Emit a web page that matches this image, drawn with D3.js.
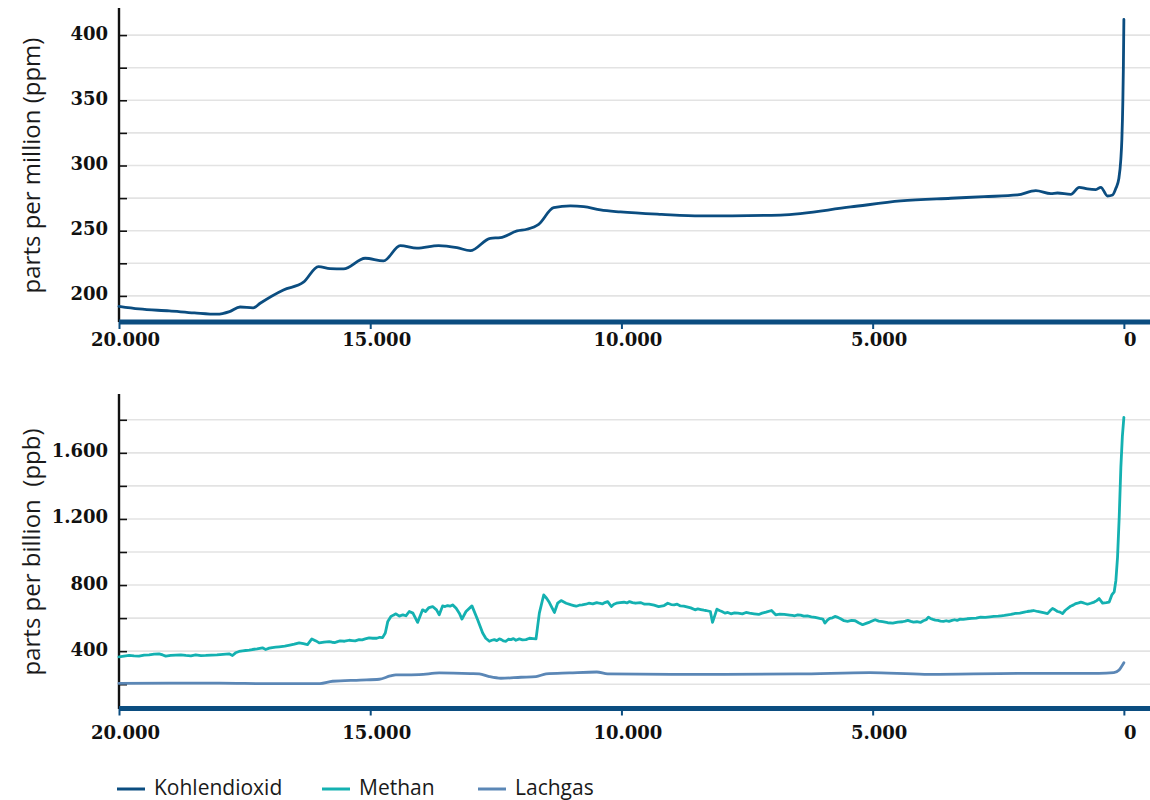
<!DOCTYPE html>
<html>
<head>
<meta charset="utf-8">
<script src="https://cdn.jsdelivr.net/npm/d3@7"></script>
<style>
  html, body { margin: 0; padding: 0; background: #fff; }
  svg { display: block; }
</style>
</head>
<body>
<svg id="chart" width="1150" height="800"></svg>
<script>
// ---------- DATA ----------
const xTickValues = [20000, 15000, 10000, 5000, 0];

const co2Years  = [20000,19600,19000,18500,18050,17800,17590,17330,17191,16727,16329,16030,15800,15532,15100,14735,14402,14070,13639,13273,13008,12610,12410,12078,11880,11648,11349,11016,10751,10418,10020,9200,8426,6833,5438,4442,3446,2783,2117,1753,1454,1321,1056,890,724,558,458,325,225,159,100,60,40,20,10,0];
const co2Values = [192,190,188.5,187,186,188,191.5,190.8,194.4,204.6,210.5,222.5,221,220.7,228.9,226.8,238.6,236.6,238.6,237,234.7,244.2,244.7,249.8,251.1,254.9,267.7,269,268.4,265.9,264.4,262.5,261.3,262,268.2,272.8,274.9,276.1,277.4,280.7,278.4,278.9,277.9,283.3,282,281.5,283.3,276.6,277.4,282.5,290,305,320,350,375,412];

const ch4Years  = [20000,19900,19800,19700,19602,19500,19400,19300,19203,19130,19070,18970,18870,18770,18672,18570,18474,18370,18274,18160,18050,17930,17809,17742,17680,17610,17540,17480,17410,17344,17250,17145,17080,17010,16950,16880,16813,16700,16600,16510,16414,16330,16248,16162,16080,16016,15920,15817,15760,15700,15650,15600,15510,15418,15360,15300,15220,15160,15100,15020,14950,14870,14810,14754,14700,14650,14588,14540,14489,14420,14350,14290,14223,14150,14057,13958,13900,13830,13758,13680,13626,13559,13510,13460,13410,13360,13290,13227,13174,13094,12975,12862,12762,12700,12629,12580,12530,12480,12430,12390,12350,12298,12250,12200,12150,12100,12032,11970,11900,11830,11760,11700,11634,11547,11490,11434,11334,11270,11201,11100,10998,10950,10900,10840,10780,10710,10650,10570,10491,10440,10380,10330,10273,10201,10150,10100,10030,9950,9890,9839,9780,9720,9621,9540,9450,9350,9259,9150,9078,9010,8950,8890,8825,8760,8700,8620,8535,8480,8420,8360,8317,8230,8187,8100,8050,8000,7940,7883,7820,7750,7680,7593,7520,7450,7360,7267,7200,7122,7013,6930,6850,6760,6651,6600,6550,6490,6434,6370,6300,6220,6144,6057,5990,5950,5900,5854,5800,5750,5690,5637,5570,5500,5420,5347,5280,5200,5130,5058,5000,4950,4880,4804,4700,4600,4500,4406,4350,4300,4240,4188,4120,4050,3990,3935,3890,3850,3800,3754,3700,3650,3590,3536,3480,3420,3370,3319,3260,3200,3120,3029,2940,2850,2760,2667,2590,2500,2440,2377,2310,2250,2200,2160,2070,1980,1920,1853,1798,1720,1650,1580,1520,1470,1420,1370,1320,1270,1221,1170,1121,1060,1001,956,900,857,820,784,724,660,591,540,492,424,350,292,240,193,159,126,93,60,30,0];
const ch4Values = [366,370,374,371,370,376,378,382,384,377,370,374,376,378,374,372,377,373,374,376,378,381,384,374,390,398,402,404,406,410,414,420,410,418,422,424,426,430,436,442,450,446,440,474,462,450,455,458,454,452,458,462,460,466,464,462,470,468,474,480,478,478,484,482,510,580,610,618,626,612,620,614,640,630,574,650,640,664,670,650,620,674,670,676,672,680,660,630,594,640,674,590,510,478,460,466,470,464,474,470,462,460,472,470,476,466,474,468,470,478,476,474,630,740,720,694,634,690,706,690,680,676,672,678,680,684,690,686,694,690,686,694,700,670,684,690,694,696,692,700,694,690,694,684,684,678,670,676,690,682,680,684,674,672,668,662,650,656,652,648,646,640,574,654,646,640,630,634,626,632,630,626,634,630,626,622,630,636,646,620,624,622,618,616,614,620,618,612,614,608,604,598,594,570,588,598,602,610,604,596,584,580,586,584,572,560,568,576,584,590,582,578,572,570,576,578,582,586,580,576,578,574,584,590,606,598,592,588,586,582,580,584,580,586,590,586,594,592,596,598,600,606,604,608,610,612,614,616,620,622,626,628,630,636,640,643,646,640,636,632,627,644,658,650,640,636,627,646,658,672,680,688,692,697,694,690,684,690,697,706,718,691,694,697,740,758,828,969,1210,1512,1700,1815];

const n2oYears  = [20000,19000,18000,17000,16000,15750,15200,14820,14600,14489,14024,13626,13000,12829,12630,12400,12000,11700,11500,11036,10491,10273,9000,8317,6500,5058,3970,2000,500,200,95,40,0];
const n2oValues = [205,207,207,203,204,218,225,230,250,256,258,268,264,262,246,236,242,246,262,268,274,262,260,260,262,270,260,266,266,270,286,310,330];

const topYTicks = [200,250,300,350,400];
const topYGrid  = [200,225,250,275,300,325,350,375,400];
const botYTicks = [400,800,1200,1600];
const botYGrid  = [200,400,600,800,1000,1200,1400,1600,1800];

const seriesNames  = ["Kohlendioxid","Methan","Lachgas"];
const seriesColors = ["#0b4d80","#14b1b1","#5b87b6"];

const yLabelTop = "parts per million (ppm)";
const yLabelBot = "parts per billion  (ppb)";

// ---------- DRAW ----------
const svg = d3.select("#chart");
const locale = d3.formatLocale({decimal: ",", thousands: ".", grouping: [3], currency: ["", ""]});
const fmt = locale.format(",");

const x = d3.scaleLinear().domain([20000, -520]).range([119, 1150]);
const yTop = d3.scaleLinear().domain([180, 420]).range([322, 9]);
const yBot = d3.scaleLinear().domain([50, 1950]).range([709, 395]);

const axisBlue = "#0b4d80";
const tickFont = "'DejaVu Serif', serif";
const tickSize = 18;

function panel(y, gridVals, tickVals, label) {
  const g = svg.append("g");
  const [y0, y1] = y.range();
  g.append("g").selectAll("line").data(gridVals).join("line")
    .attr("x1", x.range()[0]).attr("x2", 1150)
    .attr("y1", d => y(d)).attr("y2", d => y(d))
    .attr("stroke", "#e3e3e3").attr("stroke-width", 1.6);
  const ya = d3.axisLeft(y).tickValues(gridVals).tickSize(-8).tickSizeOuter(0)
    .tickFormat(d => tickVals.includes(d) ? fmt(d) : "");
  const yg = g.append("g").attr("transform", `translate(${x.range()[0]},0)`).call(ya);
  yg.select(".domain").remove();
  yg.selectAll(".tick line").attr("stroke", "#111").attr("stroke-width", 1.6);
  yg.selectAll(".tick text").attr("x", -11).attr("dy", "0.22em")
    .attr("font-family", tickFont).attr("font-weight", "bold").attr("font-size", tickSize).attr("fill", "#111");
  g.append("line").attr("x1", x.range()[0]).attr("x2", x.range()[0])
    .attr("y1", y1 - 1).attr("y2", y0).attr("stroke", "#111").attr("stroke-width", 2.4);
  g.append("text")
    .attr("transform", `translate(32,${(y0 + y1) / 2}) rotate(-90)`)
    .attr("text-anchor", "middle").attr("dy", "0.35em")
    .attr("font-family", "'Open Sans', sans-serif").attr("font-size", 24).attr("fill", "#1a1a1a")
    .style("white-space", "pre").text(label);
  return g;
}

function xAxis(yPos, labelTop) {
  const xa = d3.axisBottom(x).tickValues(xTickValues).tickSize(7).tickSizeOuter(0).tickFormat(d => fmt(d));
  const xg = svg.append("g").attr("transform", `translate(0,${yPos})`).call(xa);
  xg.select(".domain").attr("stroke", axisBlue).attr("stroke-width", 4.8).attr("d", `M${x.range()[0]},0H1150`);
  xg.selectAll(".tick line").attr("stroke", axisBlue).attr("stroke-width", 2);
  xg.selectAll(".tick text").attr("y", labelTop).attr("dx", 6).attr("dy", "0.73em")
    .attr("font-family", tickFont).attr("font-weight", "bold").attr("font-size", tickSize).attr("fill", "#111");
}

function drawLine(years, values, y, color, curve, width) {
  const pts = years.map((yr, i) => [yr, values[i]]);
  const line = d3.line().x(d => x(d[0])).y(d => y(d[1])).curve(curve);
  svg.append("path").datum(pts).attr("d", line)
    .attr("fill", "none").attr("stroke", color).attr("stroke-width", width)
    .attr("stroke-linejoin", "round").attr("stroke-linecap", "round");
}

panel(yTop, topYGrid, topYTicks, yLabelTop);
drawLine(co2Years, co2Values, yTop, seriesColors[0], d3.curveMonotoneX, 2.8);
xAxis(322, 11);

panel(yBot, botYGrid, botYTicks, yLabelBot);
drawLine(n2oYears, n2oValues, yBot, seriesColors[2], d3.curveMonotoneX, 2.8);
drawLine(ch4Years, ch4Values, yBot, seriesColors[1], d3.curveLinear, 2.8);
xAxis(708.5, 17);

// legend
const legendX = [117, 322, 478];
const lg = svg.append("g");
seriesNames.forEach((name, i) => {
  lg.append("line").attr("x1", legendX[i]).attr("x2", legendX[i] + 28)
    .attr("y1", 789).attr("y2", 789).attr("stroke", seriesColors[i]).attr("stroke-width", 3);
  lg.append("text").attr("x", legendX[i] + 37).attr("y", 795)
    .attr("font-family", "'Open Sans', sans-serif").attr("font-size", 21).attr("fill", "#1a1a1a")
    .text(name);
});
</script>
</body>
</html>
